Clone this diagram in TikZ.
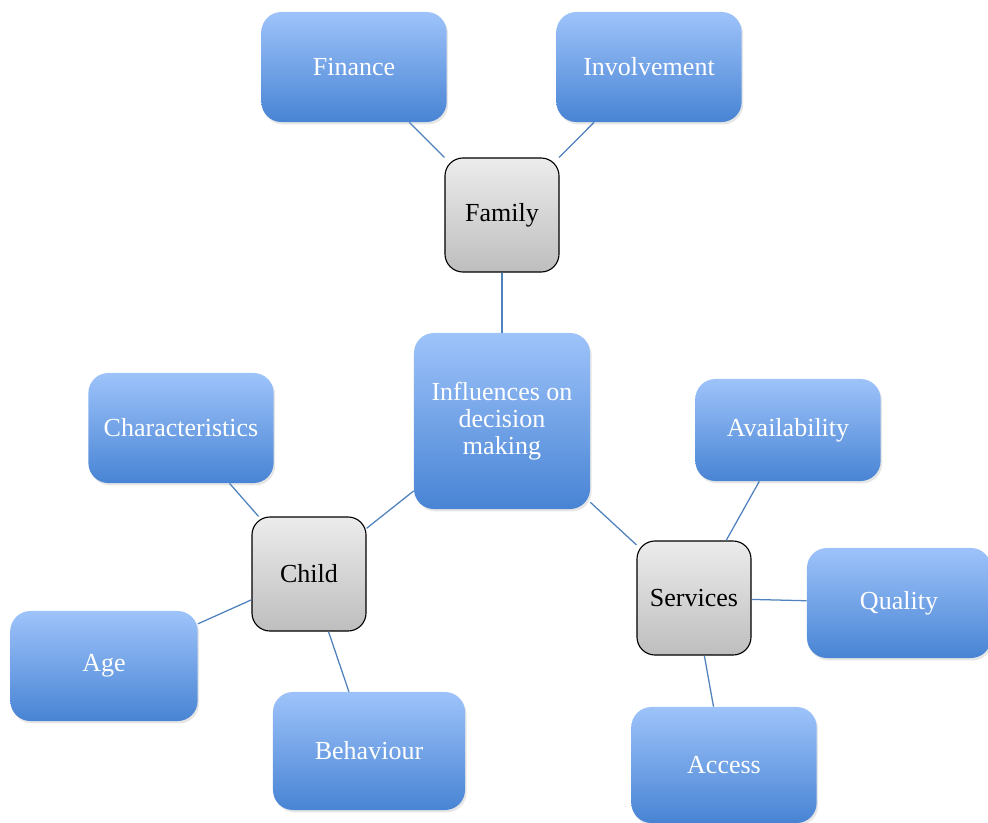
\documentclass[tikz,border=0pt]{standalone}
\usepackage{fontspec}
\setmainfont{Liberation Serif}
\usetikzlibrary{shadows}
\definecolor{boxtop}{RGB}{158,195,250}
\definecolor{boxbot}{RGB}{72,132,212}
\definecolor{hubtop}{RGB}{236,236,236}
\definecolor{hubbot}{RGB}{190,190,190}
\definecolor{linkblue}{RGB}{79,129,189}
\tikzset{
  fig/.style={font=\fontsize{18.5}{19}\selectfont},
  bluebox/.style={rounded corners=5mm,minimum width=4.63cm,minimum height=2.75cm,
                  align=center,text=white,top color=boxtop,bottom color=boxbot,
                  drop shadow={opacity=0.2,shadow xshift=0.4mm,shadow yshift=-0.6mm}},
  hub/.style={draw=black,thick,rounded corners=4.5mm,minimum width=2.85cm,
              minimum height=2.85cm,align=center,top color=hubtop,bottom color=hubbot},
  lnk/.style={linkblue,line width=0.9pt},
}
\begin{document}
\begin{tikzpicture}[fig,x=0.025cm,y=-0.025cm]
\clip (0,0) rectangle (988,823);
\useasboundingbox (0,0) rectangle (988,823);

% centre
\node[bluebox,minimum width=4.4cm,minimum height=4.4cm] (infl) at (502,421)
     {Influences on\\decision\\making};

% family branch
\node[hub] (fam) at (502,215) {Family};
\node[bluebox] (fin) at (354,67) {Finance};
\node[bluebox] (inv) at (649,67) {Involvement};

% child branch
\node[hub] (child) at (309,574) {Child};
\node[bluebox] (char) at (181,428) {Characteristics};
\node[bluebox,minimum width=4.68cm] (age) at (104,666) {Age};
\node[bluebox,minimum width=4.8cm,minimum height=2.95cm] (beh) at (369,751) {Behaviour};

% services branch
\node[hub] (serv) at (694,598) {Services};
\node[bluebox,minimum height=2.55cm] (avail) at (788,430) {Availability};
\node[bluebox,minimum width=4.6cm] (qual) at (899,603) {Quality};
\node[bluebox,minimum height=2.9cm] (acc) at (724,765) {Access};

% links
\draw[lnk] (fin) -- (fam);
\draw[lnk] (inv) -- (fam);
\draw[lnk] (fam) -- (infl);
\draw[lnk] (char) -- (child);
\draw[lnk] (age) -- (child);
\draw[lnk] (beh) -- (child);
\draw[lnk] (child) -- (infl);
\draw[lnk] (serv) -- (infl);
\draw[lnk] (avail) -- (serv);
\draw[lnk] (qual) -- (serv);
\draw[lnk] (acc) -- (serv);

\end{tikzpicture}
\end{document}
